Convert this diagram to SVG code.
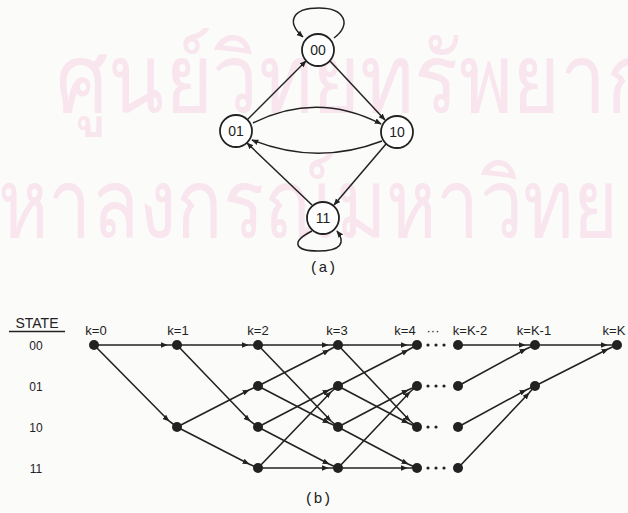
<svg xmlns="http://www.w3.org/2000/svg" width="628" height="513" viewBox="0 0 628 513">
<defs>
<marker id="ah" viewBox="0 0 10 10" refX="9" refY="5" markerWidth="7" markerHeight="7" markerUnits="userSpaceOnUse" orient="auto">
<path d="M0,1 L10,5 L0,9 z" fill="#222"/>
</marker>
<marker id="am" viewBox="0 0 10 10" refX="9" refY="5" markerWidth="7" markerHeight="7" markerUnits="userSpaceOnUse" orient="auto">
<path d="M0,1 L10,5 L0,9 z" fill="#222"/>
</marker>
</defs>
<style>
.wm{fill:#f8e5ee;font-family:"Noto Sans","DejaVu Sans",sans-serif;font-size:96px;}
.st{fill:#fff;stroke:#222;stroke-width:1.8;}
.lbl{font-family:"Liberation Sans",Arial,sans-serif;font-size:14px;fill:#222;text-anchor:middle;}
.e{fill:none;stroke:#222;stroke-width:1.5;}
.t{fill:none;stroke:#222;stroke-width:1.6;marker-mid:url(#am);}
.d{fill:#222;}
.k{font-family:"Liberation Sans",Arial,sans-serif;font-size:13px;fill:#222;text-anchor:middle;}
.s{font-family:"Liberation Sans",Arial,sans-serif;font-size:12px;fill:#222;text-anchor:middle;}
.hd{font-family:"Liberation Sans",Arial,sans-serif;font-size:14px;fill:#222;text-anchor:middle;}
.cap{font-family:"Liberation Mono","Courier New",monospace;font-size:15px;fill:#222;text-anchor:middle;}
</style>
<rect width="628" height="513" fill="#fbfbfa"/>
<g id="watermark">
<text class="wm" x="56" y="112" textLength="600" lengthAdjust="spacingAndGlyphs">ศูนย์วิทยทรัพยาก</text>
<text class="wm" x="-2" y="237" textLength="620" lengthAdjust="spacingAndGlyphs">หาลงกรณ์มหาวิทย</text>
</g>
<g id="connectors-a">
<path class="e" d="M247,120 L306,61" marker-end="url(#ah)"/>
<path class="e" d="M330,61 L385,120" marker-end="url(#ah)"/>
<path class="e" d="M253,123 Q317,91 381,124" marker-end="url(#ah)"/>
<path class="e" d="M382,141 Q317,166 252,140" marker-end="url(#ah)"/>
<path class="e" d="M386,144 L334,205" marker-end="url(#ah)"/>
<path class="e" d="M312,205 L247,143" marker-end="url(#ah)"/>
<path class="e" d="M334,38 C352,25 345,8 319,8 C292,8 286,22 303,37" marker-end="url(#ah)"/>
<path class="e" d="M312,231 C290,242 295,251 318,251 C341,251 346,243 337,231" marker-end="url(#ah)"/>
</g>
<g id="n00"><circle class="st" cx="318" cy="50" r="16"/><text class="lbl" x="318" y="55">00</text></g>
<g id="n01"><circle class="st" cx="236" cy="131" r="16"/><text class="lbl" x="236" y="136">01</text></g>
<g id="n10"><circle class="st" cx="397" cy="132" r="16"/><text class="lbl" x="397" y="137">10</text></g>
<g id="n11"><circle class="st" cx="323" cy="218" r="16"/><text class="lbl" x="323" y="223">11</text></g>
<text class="cap" x="323" y="272">(a)</text>
<g id="state-labels">
<text class="hd" x="37" y="328">STATE</text>
<line x1="9" y1="331.5" x2="65" y2="331.5" stroke="#222" stroke-width="1.3"/>
<text class="s" x="36" y="350">00</text>
<text class="s" x="36" y="391">01</text>
<text class="s" x="36" y="432">10</text>
<text class="s" x="36" y="473">11</text>
</g>
<g id="time-labels">
<text class="k" x="96" y="335">k=0</text>
<text class="k" x="178" y="335">k=1</text>
<text class="k" x="258" y="335">k=2</text>
<text class="k" x="337" y="335">k=3</text>
<text class="k" x="405" y="335">k=4</text>
<text class="k" x="433" y="335">···</text>
<text class="k" x="470" y="335">k=K-2</text>
<text class="k" x="534" y="335">k=K-1</text>
<text class="k" x="614" y="335">k=K</text>
</g>
<g id="trellis-edges">
<path class="t" d="M94,345 L167,345 L177,345"/>
<path class="t" d="M94,345 L169,421 L177,427"/>
<path class="t" d="M177,345 L248,345 L258,345"/>
<path class="t" d="M177,345 L250,421 L258,427"/>
<path class="t" d="M177,427 L249,390 L258,386"/>
<path class="t" d="M177,427 L249,464 L258,468"/>
<path class="t" d="M258,345 L328,345 L338,345"/>
<path class="t" d="M258,345 L331,421 L338,427"/>
<path class="t" d="M258,386 L329,350 L338,345"/>
<path class="t" d="M258,386 L329,423 L338,427"/>
<path class="t" d="M258,427 L329,390 L338,386"/>
<path class="t" d="M258,427 L329,464 L338,468"/>
<path class="t" d="M258,468 L331,392 L338,386"/>
<path class="t" d="M258,468 L328,468 L338,468"/>
<path class="t" d="M338,345 L407,345 L417,345"/>
<path class="t" d="M338,345 L410,421 L417,427"/>
<path class="t" d="M338,386 L408,350 L417,345"/>
<path class="t" d="M338,386 L408,423 L417,427"/>
<path class="t" d="M338,427 L408,390 L417,386"/>
<path class="t" d="M338,427 L408,464 L417,468"/>
<path class="t" d="M338,468 L410,392 L417,386"/>
<path class="t" d="M338,468 L407,468 L417,468"/>
<path class="t" d="M458,345 L525,345 L535,345"/>
<path class="t" d="M458,386 L526,349 L535,345"/>
<path class="t" d="M458,427 L526,390 L535,386"/>
<path class="t" d="M458,468 L529,393 L535,386"/>
<path class="t" d="M535,345 L607,345 L617,345"/>
<path class="t" d="M535,386 L608,349 L617,345"/>
</g>
<g id="trellis-nodes">
<circle class="d" cx="94" cy="345" r="5"/>
<circle class="d" cx="177" cy="345" r="5"/>
<circle class="d" cx="177" cy="427" r="5"/>
<circle class="d" cx="258" cy="345" r="5"/>
<circle class="d" cx="258" cy="386" r="5"/>
<circle class="d" cx="258" cy="427" r="5"/>
<circle class="d" cx="258" cy="468" r="5"/>
<circle class="d" cx="338" cy="345" r="5"/>
<circle class="d" cx="338" cy="386" r="5"/>
<circle class="d" cx="338" cy="427" r="5"/>
<circle class="d" cx="338" cy="468" r="5"/>
<circle class="d" cx="417" cy="345" r="5"/>
<circle class="d" cx="417" cy="386" r="5"/>
<circle class="d" cx="417" cy="427" r="5"/>
<circle class="d" cx="417" cy="468" r="5"/>
<circle class="d" cx="458" cy="345" r="5"/>
<circle class="d" cx="458" cy="386" r="5"/>
<circle class="d" cx="458" cy="427" r="5"/>
<circle class="d" cx="458" cy="468" r="5"/>
<circle class="d" cx="535" cy="345" r="5"/>
<circle class="d" cx="535" cy="386" r="5"/>
<circle class="d" cx="617" cy="345" r="5"/>
</g>
<g id="ellipsis-dots" fill="#222">
<circle cx="428" cy="345" r="1.6"/><circle cx="436" cy="345" r="1.6"/><circle cx="444" cy="345" r="1.6"/>
<circle cx="428" cy="386" r="1.6"/><circle cx="436" cy="386" r="1.6"/><circle cx="444" cy="386" r="1.6"/>
<circle cx="428" cy="427" r="1.6"/><circle cx="436" cy="427" r="1.6"/>
<circle cx="428" cy="468" r="1.6"/><circle cx="436" cy="468" r="1.6"/><circle cx="444" cy="468" r="1.6"/>
</g>
<text class="cap" x="318" y="503">(b)</text>
</svg>
